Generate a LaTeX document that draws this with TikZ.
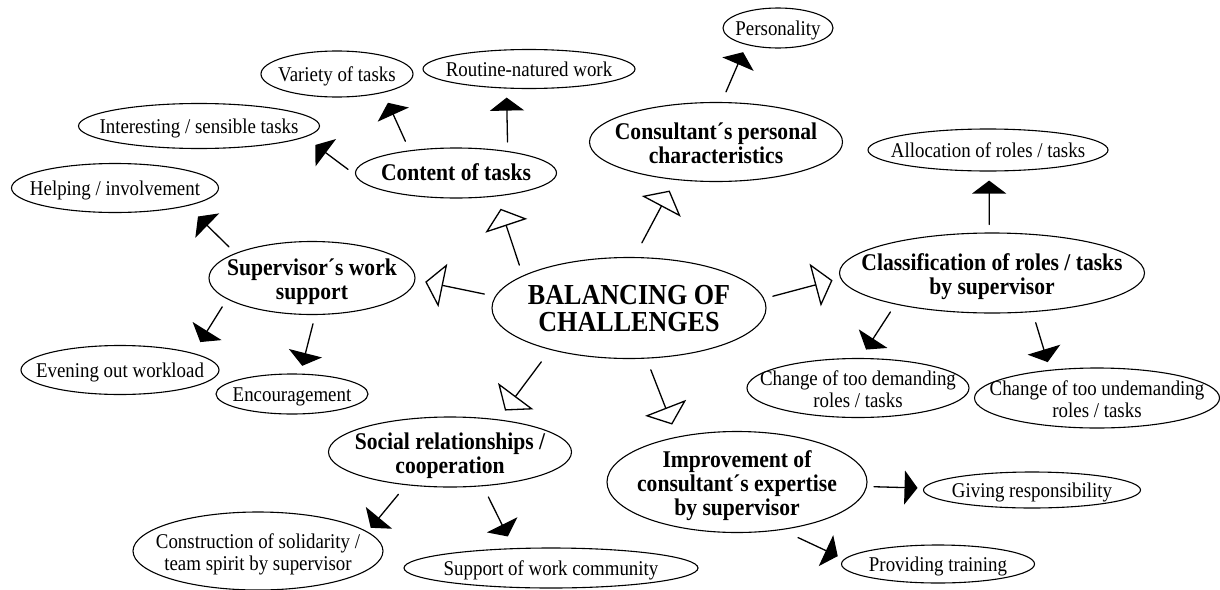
\documentclass[tikz,border=0pt]{standalone}
\usepackage{fontspec}
\setmainfont{Liberation Serif}[FakeStretch=0.9]
\usetikzlibrary{arrows.meta,shapes.geometric}
\newcommand{\ovaltext}[1]{\makebox[0pt]{\raisebox{0pt}[\height][\dimexpr\depth-9pt\relax]{\begin{tabular}{@{}c@{}}#1\end{tabular}}}}

\begin{document}
\begin{tikzpicture}[line cap=round,x=1pt,y=-1pt,
    bub/.style={ellipse,draw,line width=1.1pt,inner sep=0pt},
    leaf/.style={bub,font=\fontsize{21}{22}\selectfont},
    topic/.style={bub,font=\bfseries\fontsize{24}{24}\selectfont},
    hub/.style={bub,font=\bfseries\fontsize{29}{27}\selectfont},
    main/.style={-{Triangle[open,width=44pt,length=18pt]},line width=1.3pt},
    sub/.style={-{Triangle[width=34pt,length=13pt]},line width=1.3pt}]
\useasboundingbox (0,0) rectangle (1220,589);

\node[hub,minimum width=274pt,minimum height=101pt] (balance) at (629,308) {\ovaltext{BALANCING OF\\CHALLENGES}};

\node[topic,minimum width=201pt,minimum height=50pt] (content) at (456,173) {\ovaltext{Content of tasks}};
\node[topic,minimum width=253pt,minimum height=79pt] (personal) at (716,142) {\ovaltext{Consultant´s personal\\characteristics}};
\node[topic,minimum width=206pt,minimum height=73pt] (support) at (312,278) {\ovaltext{Supervisor´s work\\support}};
\node[topic,minimum width=305pt,minimum height=80pt] (classif) at (992,273) {\ovaltext{Classification of roles / tasks\\by supervisor}};
\node[topic,minimum width=243pt,minimum height=70pt] (social) at (450,452) {\ovaltext{Social relationships /\\cooperation}};
\node[topic,minimum width=260pt,minimum height=101pt] (expertise) at (737,482) {\ovaltext{Improvement of\\consultant´s expertise\\by supervisor}};

\node[leaf,minimum width=152pt,minimum height=46pt] (variety) at (337,74) {\ovaltext{Variety of tasks}};
\node[leaf,minimum width=241pt,minimum height=45pt] (sensible) at (199,126) {\ovaltext{Interesting / sensible tasks}};
\node[leaf,minimum width=212pt,minimum height=39pt] (routine) at (529,69) {\ovaltext{Routine-natured work}};
\node[leaf,minimum width=110pt,minimum height=40pt] (personality) at (778,28) {\ovaltext{Personality}};
\node[leaf,minimum width=207pt,minimum height=49pt] (helping) at (115,188) {\ovaltext{Helping / involvement}};
\node[leaf,minimum width=198pt,minimum height=49pt] (workload) at (120,370) {\ovaltext{Evening out workload}};
\node[leaf,minimum width=152pt,minimum height=40pt] (encourage) at (292,394) {\ovaltext{Encouragement}};
\node[leaf,minimum width=240pt,minimum height=42pt] (allocation) at (988,150) {\ovaltext{Allocation of roles / tasks}};
\node[leaf,minimum width=222pt,minimum height=59pt] (demanding) at (858,388) {\ovaltext{Change of too demanding\\roles / tasks}};
\node[leaf,minimum width=245pt,minimum height=60pt] (undemanding) at (1097,398) {\ovaltext{Change of too undemanding\\roles / tasks}};
\node[leaf,minimum width=250pt,minimum height=78pt] (solidarity) at (258,551) {\ovaltext{Construction of solidarity /\\team spirit by supervisor}};
\node[leaf,minimum width=294pt,minimum height=40pt] (community) at (551,568) {\ovaltext{Support of work community}};
\node[leaf,minimum width=217pt,minimum height=36pt] (responsibility) at (1032,490) {\ovaltext{Giving responsibility}};
\node[leaf,minimum width=193pt,minimum height=38pt] (training) at (938,564) {\ovaltext{Providing training}};

\draw[main,shorten <=11pt,shorten >=13pt] (balance.163) -- (content.-30);
\draw[main,shorten <=11pt,shorten >=10pt] (balance.175) -- (support.-1);
\draw[main,shorten <=16pt,shorten >=12pt] (balance.84) -- (personal.-137);
\draw[main,shorten <=9pt,shorten >=8pt] (balance.4) -- (classif.182);
\draw[main,shorten <=15pt,shorten >=11pt] (balance.-152) -- (social.34);
\draw[main,shorten <=12pt,shorten >=13pt] (balance.-71) -- (expertise.143);

\draw[sub,shorten <=10pt,shorten >=11pt] (content.154) -- (variety.-22);
\draw[sub,shorten <=9pt,shorten >=9pt] (content.23) -- (routine.-139);
\draw[sub,shorten <=9pt,shorten >=13pt] (content.181) -- (sensible.-6);
\draw[sub,shorten <=9pt,shorten >=15pt] (support.162) -- (helping.-14);
\draw[sub,shorten <=9pt,shorten >=13pt] (support.194) -- (workload.13);
\draw[sub,shorten <=9pt,shorten >=8pt] (support.-85) -- (encourage.68);
\draw[sub,shorten <=11pt,shorten >=8pt] (personal.82) -- (personality.-152);
\draw[sub,shorten <=8pt,shorten >=9pt] (classif.94) -- (allocation.-87);
\draw[sub,shorten <=9pt,shorten >=10pt] (classif.-162) -- (demanding.85);
\draw[sub,shorten <=11pt,shorten >=8pt] (classif.-44) -- (undemanding.149);
\draw[sub,shorten <=12pt,shorten >=5pt] (social.-143) -- (solidarity.10);
\draw[sub,shorten <=12pt,shorten >=13pt] (social.-46) -- (community.152);
\draw[sub,shorten <=7pt,shorten >=6pt] (expertise.-2) -- (responsibility.179);
\draw[sub,shorten <=18pt,shorten >=7pt] (expertise.-47) -- (training.177);
\end{tikzpicture}
\end{document}
